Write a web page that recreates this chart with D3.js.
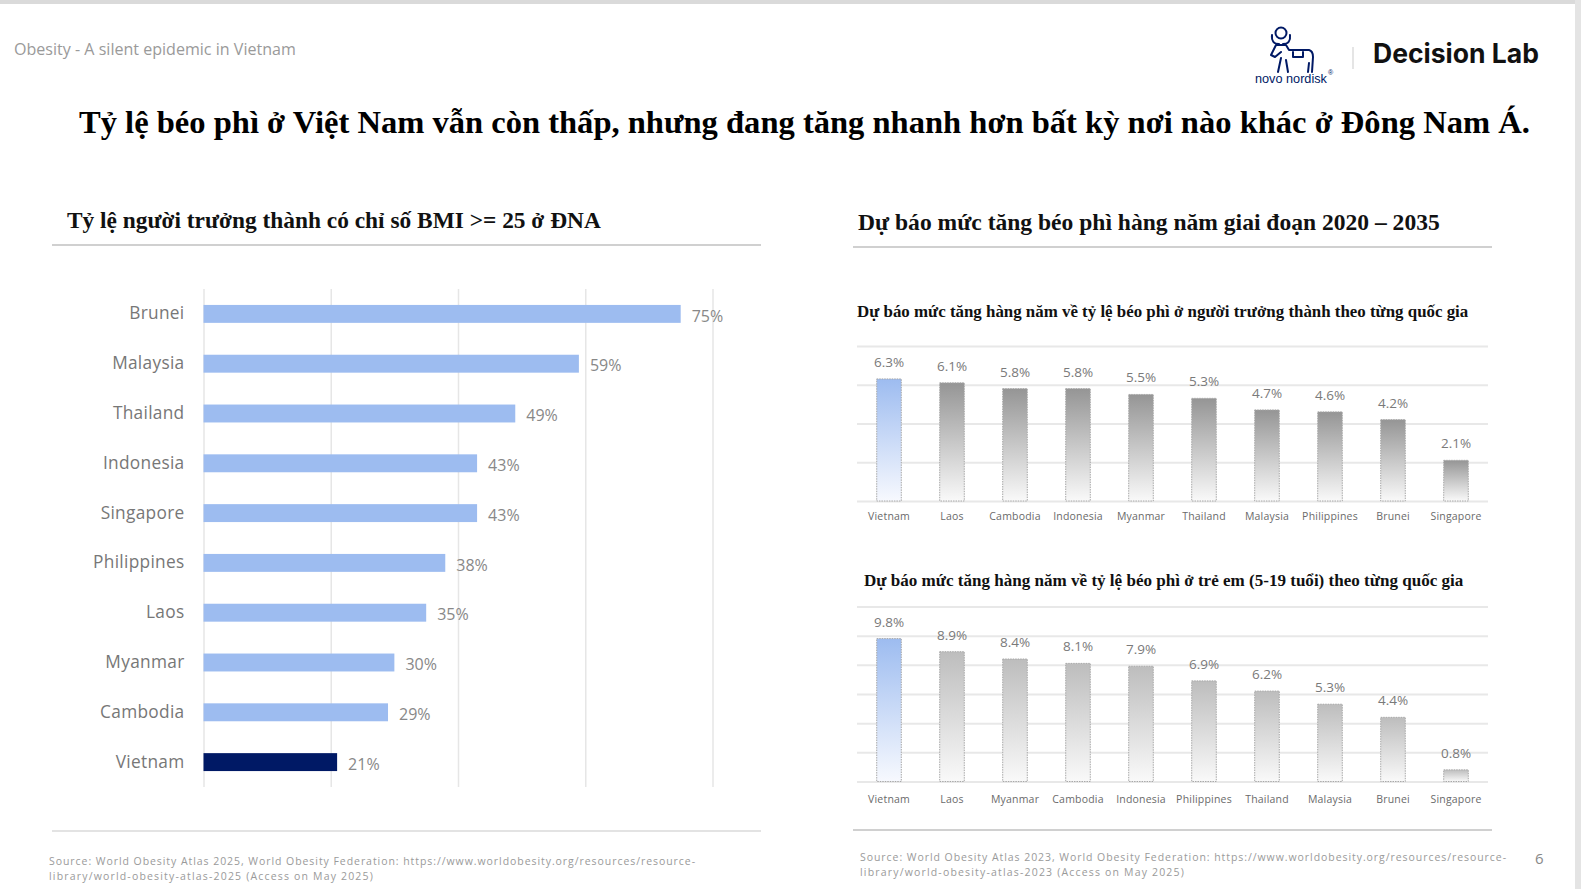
<!DOCTYPE html>
<html>
<head>
<meta charset="utf-8">
<script src="https://cdn.jsdelivr.net/npm/d3@7"></script>
<style>
  body { margin: 0; background: #fff; }
  svg { display: block; }
</style>
</head>
<body>
<svg id="chart" width="1581" height="889"></svg>
<script>
// ---- data ----
const adultCountries = ['Brunei', 'Malaysia', 'Thailand', 'Indonesia', 'Singapore', 'Philippines', 'Laos', 'Myanmar', 'Cambodia', 'Vietnam'];
const adultBmiValues = [75, 59, 49, 43, 43, 38, 35, 30, 29, 21];
const adultTicks = [0, 20, 40, 60, 80];

const growthAdultCountries = ['Vietnam', 'Laos', 'Cambodia', 'Indonesia', 'Myanmar', 'Thailand', 'Malaysia', 'Philippines', 'Brunei', 'Singapore'];
const growthAdultValues = [6.3, 6.1, 5.8, 5.8, 5.5, 5.3, 4.7, 4.6, 4.2, 2.1];
const growthAdultTicks = [0, 2, 4, 6, 8];

const growthChildCountries = ['Vietnam', 'Laos', 'Myanmar', 'Cambodia', 'Indonesia', 'Philippines', 'Thailand', 'Malaysia', 'Brunei', 'Singapore'];
const growthChildValues = [9.8, 8.9, 8.4, 8.1, 7.9, 6.9, 6.2, 5.3, 4.4, 0.8];
const growthChildTicks = [0, 2, 4, 6, 8, 10, 12];

const SERIF = '"Liberation Serif", "Times New Roman", serif';
const SANS = '"Open Sans", "Noto Sans", sans-serif';

const svg = d3.select('#chart');

// scale a text's font size so it spans the given width
function fitText(sel, width) {
  const fs = parseFloat(sel.attr('font-size'));
  const w = sel.node().getComputedTextLength();
  if (w > 0) sel.attr('font-size', fs * width / w);
  return sel;
}

// keep the font size, stretch with letter spacing instead
function spreadText(sel, width) {
  const w = sel.node().getComputedTextLength();
  const n = sel.text().length;
  if (w > 0 && w < width) sel.attr('letter-spacing', (width - w) / n);
  return sel;
}

// two-line source note, small type spread to the original widths
function sourceNote(x, y, line1, line2, w1, w2) {
  [line1, line2].forEach((line, i) => {
    svg.append('text').attr('x', x).attr('y', y + i * 14.6).attr('font-family', SANS).attr('font-size', 10.5)
      .attr('fill', '#9a9a9a').text(line).call(s => spreadText(s, i ? w2 : w1));
  });
}

// ---- page frame ----
svg.append('rect').attr('x', 0).attr('y', 0).attr('width', 1581).attr('height', 4).attr('fill', '#dadada');
svg.append('rect').attr('x', 1575).attr('y', 0).attr('width', 6).attr('height', 889).attr('fill', '#e4e4e4');

svg.append('text').attr('x', 14).attr('y', 55).attr('font-family', SANS).attr('font-size', 15)
  .attr('fill', '#9a9a9a').text('Obesity - A silent epidemic in Vietnam')
  .call(s => fitText(s, 282));

// novo nordisk logo (simplified)
const logo = svg.append('g').attr('fill', 'none').attr('stroke', '#001965').attr('stroke-width', 2)
  .attr('stroke-linejoin', 'round').attr('stroke-linecap', 'round');
logo.append('circle').attr('cx', 1281).attr('cy', 33).attr('r', 5.5);
logo.append('path').attr('d', 'M1272,35 Q1271,44 1279,44 M1290,35 Q1291,44 1283,44');
logo.append('path').attr('d', 'M1276,45 L1286,45 L1289,50 L1309,50 Q1313,51 1313,57 L1312,72 M1309,63 L1308,72 M1276,45 L1271,55 L1275,57 L1281,52 M1281,58 L1278,72 M1286,60 L1288,72 M1293,52 L1293,57 L1303,57 L1303,52');
svg.append('text').attr('x', 1255).attr('y', 83).attr('font-family', '"Liberation Sans", Arial, sans-serif')
  .attr('font-size', 14).attr('fill', '#001965').text('novo nordisk').call(s => fitText(s, 72));
svg.append('text').attr('x', 1328).attr('y', 75).attr('font-family', '"Liberation Sans", Arial, sans-serif')
  .attr('font-size', 7).attr('fill', '#001965').text('®');
svg.append('line').attr('x1', 1353).attr('x2', 1353).attr('y1', 47).attr('y2', 69).attr('stroke', '#dddddd').attr('stroke-width', 1.5);
svg.append('text').attr('x', 1373).attr('y', 63).attr('font-family', 'Inter, "Liberation Sans", sans-serif')
  .attr('font-size', 27).attr('font-weight', 700).attr('fill', '#111').text('Decision Lab')
  .call(s => fitText(s, 166));

// main title
svg.append('text').attr('x', 79).attr('y', 133).attr('font-family', SERIF).attr('font-size', 32)
  .attr('font-weight', 700).attr('fill', '#000')
  .text('Tỷ lệ béo phì ở Việt Nam vẫn còn thấp, nhưng đang tăng nhanh hơn bất kỳ nơi nào khác ở Đông Nam Á.')
  .call(s => fitText(s, 1451));

// ---- left panel: adult BMI >= 25 ----
svg.append('text').attr('x', 67).attr('y', 228).attr('font-family', SERIF).attr('font-size', 22)
  .attr('font-weight', 700).attr('fill', '#111')
  .text('Tỷ lệ người trưởng thành có chỉ số BMI >= 25 ở ĐNA').call(s => fitText(s, 534));
svg.append('line').attr('x1', 52).attr('x2', 761).attr('y1', 245).attr('y2', 245).attr('stroke', '#d0d0d0').attr('stroke-width', 2);
svg.append('line').attr('x1', 52).attr('x2', 761).attr('y1', 831).attr('y2', 831).attr('stroke', '#e3e3e3').attr('stroke-width', 2);

const lx = d3.scaleLinear().domain([0, 80]).range([203.5, 712.5]);
const ly = d3.scaleBand().domain(adultCountries).range([289, 787]).paddingInner(0.64).paddingOuter(0.32);

const leftGrid = svg.append('g').attr('transform', 'translate(0,289)')
  .call(d3.axisTop(lx).tickValues(adultTicks).tickSize(-(787 - 289)).tickFormat(''));
leftGrid.select('.domain').remove();
leftGrid.selectAll('line').attr('stroke', '#e6e6e6').attr('stroke-width', 1.5);

const leftAxis = svg.append('g').attr('transform', 'translate(203.5,0)')
  .call(d3.axisLeft(ly).tickSize(0).tickPadding(19));
leftAxis.select('.domain').remove();
leftAxis.selectAll('text').attr('font-family', SANS).attr('font-size', 17.3).attr('fill', '#777')
  .attr('letter-spacing', 0.3);

svg.append('g').selectAll('rect').data(adultCountries).enter().append('rect')
  .attr('x', lx(0)).attr('y', d => ly(d)).attr('height', ly.bandwidth())
  .attr('width', (d, i) => lx(adultBmiValues[i]) - lx(0))
  .attr('fill', d => d === 'Vietnam' ? '#001965' : '#9dbcf0');

svg.append('g').selectAll('text').data(adultCountries).enter().append('text')
  .attr('x', (d, i) => lx(adultBmiValues[i]) + 11)
  .attr('y', d => ly(d) + ly.bandwidth() / 2 + 2).attr('dy', '0.35em')
  .attr('font-family', SANS).attr('font-size', 16).attr('fill', '#888')
  .text((d, i) => adultBmiValues[i] + '%');

sourceNote(49, 865,
  'Source: World Obesity Atlas 2025, World Obesity Federation: https://www.worldobesity.org/resources/resource-',
  'library/world-obesity-atlas-2025 (Access on May 2025)', 647, 325);

// ---- right panel: projected annual growth ----
svg.append('text').attr('x', 858).attr('y', 230).attr('font-family', SERIF).attr('font-size', 22)
  .attr('font-weight', 700).attr('fill', '#111')
  .text('Dự báo mức tăng béo phì hàng năm giai đoạn 2020 – 2035').call(s => fitText(s, 582));
svg.append('line').attr('x1', 853).attr('x2', 1492).attr('y1', 247).attr('y2', 247).attr('stroke', '#d0d0d0').attr('stroke-width', 2);
svg.append('line').attr('x1', 853).attr('x2', 1492).attr('y1', 830).attr('y2', 830).attr('stroke', '#d0d0d0').attr('stroke-width', 2);

const defs = svg.append('defs');
function gradient(id, top, bottom) {
  const g = defs.append('linearGradient').attr('id', id).attr('x1', 0).attr('x2', 0).attr('y1', 0).attr('y2', 1);
  g.append('stop').attr('offset', '0%').attr('stop-color', top);
  g.append('stop').attr('offset', '100%').attr('stop-color', bottom);
}
gradient('gBlue', '#9dbcf0', '#f7f9fe');
gradient('gGreyDark', '#959595', '#f9f9f9');
gradient('gGreyLight', '#bdbdbd', '#f9f9f9');

function growthChart(opts) {
  const x = d3.scaleBand().domain(opts.countries).range([857, 1488]).paddingInner(0.61).paddingOuter(0.313);
  const y = d3.scaleLinear().domain([0, d3.max(opts.ticks)]).range([opts.bottom, opts.top]);

  svg.append('text').attr('x', opts.titleX).attr('y', opts.titleY).attr('font-family', SERIF).attr('font-size', 16)
    .attr('font-weight', 700).attr('fill', '#111').text(opts.title).call(s => fitText(s, opts.titleW));

  const grid = svg.append('g').attr('transform', 'translate(857,0)')
    .call(d3.axisLeft(y).tickValues(opts.ticks).tickSize(-(1488 - 857)).tickFormat(''));
  grid.select('.domain').remove();
  grid.selectAll('line').attr('stroke', '#e8e8e8').attr('stroke-width', 2);

  svg.append('g').selectAll('rect').data(opts.countries).enter().append('rect')
    .attr('x', d => x(d)).attr('width', x.bandwidth())
    .attr('y', (d, i) => y(opts.values[i]))
    .attr('height', (d, i) => y(0) - y(opts.values[i]))
    .attr('fill', d => d === 'Vietnam' ? 'url(#gBlue)' : `url(#${opts.grad})`)
    .attr('stroke', '#a8a8a8').attr('stroke-width', 1).attr('stroke-dasharray', '1.5,1');

  svg.append('g').selectAll('text').data(opts.countries).enter().append('text')
    .attr('x', d => x(d) + x.bandwidth() / 2).attr('y', (d, i) => y(opts.values[i]) - 12)
    .attr('text-anchor', 'middle').attr('font-family', SANS).attr('font-size', 13.5).attr('fill', '#7a7a7a')
    .text((d, i) => opts.values[i] + '%');

  const ax = svg.append('g').attr('transform', `translate(0,${opts.bottom})`)
    .call(d3.axisBottom(x).tickSize(0).tickPadding(opts.labelPad));
  ax.select('.domain').remove();
  ax.selectAll('text').attr('font-family', SANS).attr('font-size', 10.5).attr('fill', '#6a6a6a')
    .attr('letter-spacing', 0.2);
}

growthChart({
  countries: growthAdultCountries, values: growthAdultValues, ticks: growthAdultTicks,
  top: 346, bottom: 501, grad: 'gGreyDark', labelPad: 12,
  title: 'Dự báo mức tăng hàng năm về tỷ lệ béo phì ở người trưởng thành theo từng quốc gia',
  titleX: 857, titleY: 317, titleW: 612
});
growthChart({
  countries: growthChildCountries, values: growthChildValues, ticks: growthChildTicks,
  top: 606.5, bottom: 781.5, grad: 'gGreyLight', labelPad: 14,
  title: 'Dự báo mức tăng hàng năm về tỷ lệ béo phì ở trẻ em (5-19 tuổi) theo từng quốc gia',
  titleX: 864, titleY: 586, titleW: 600
});

sourceNote(860, 861,
  'Source: World Obesity Atlas 2023, World Obesity Federation: https://www.worldobesity.org/resources/resource-',
  'library/world-obesity-atlas-2023 (Access on May 2025)', 647, 325);
svg.append('text').attr('x', 1535).attr('y', 864).attr('font-family', SANS).attr('font-size', 15).attr('fill', '#888').text('6');
</script>
</body>
</html>
